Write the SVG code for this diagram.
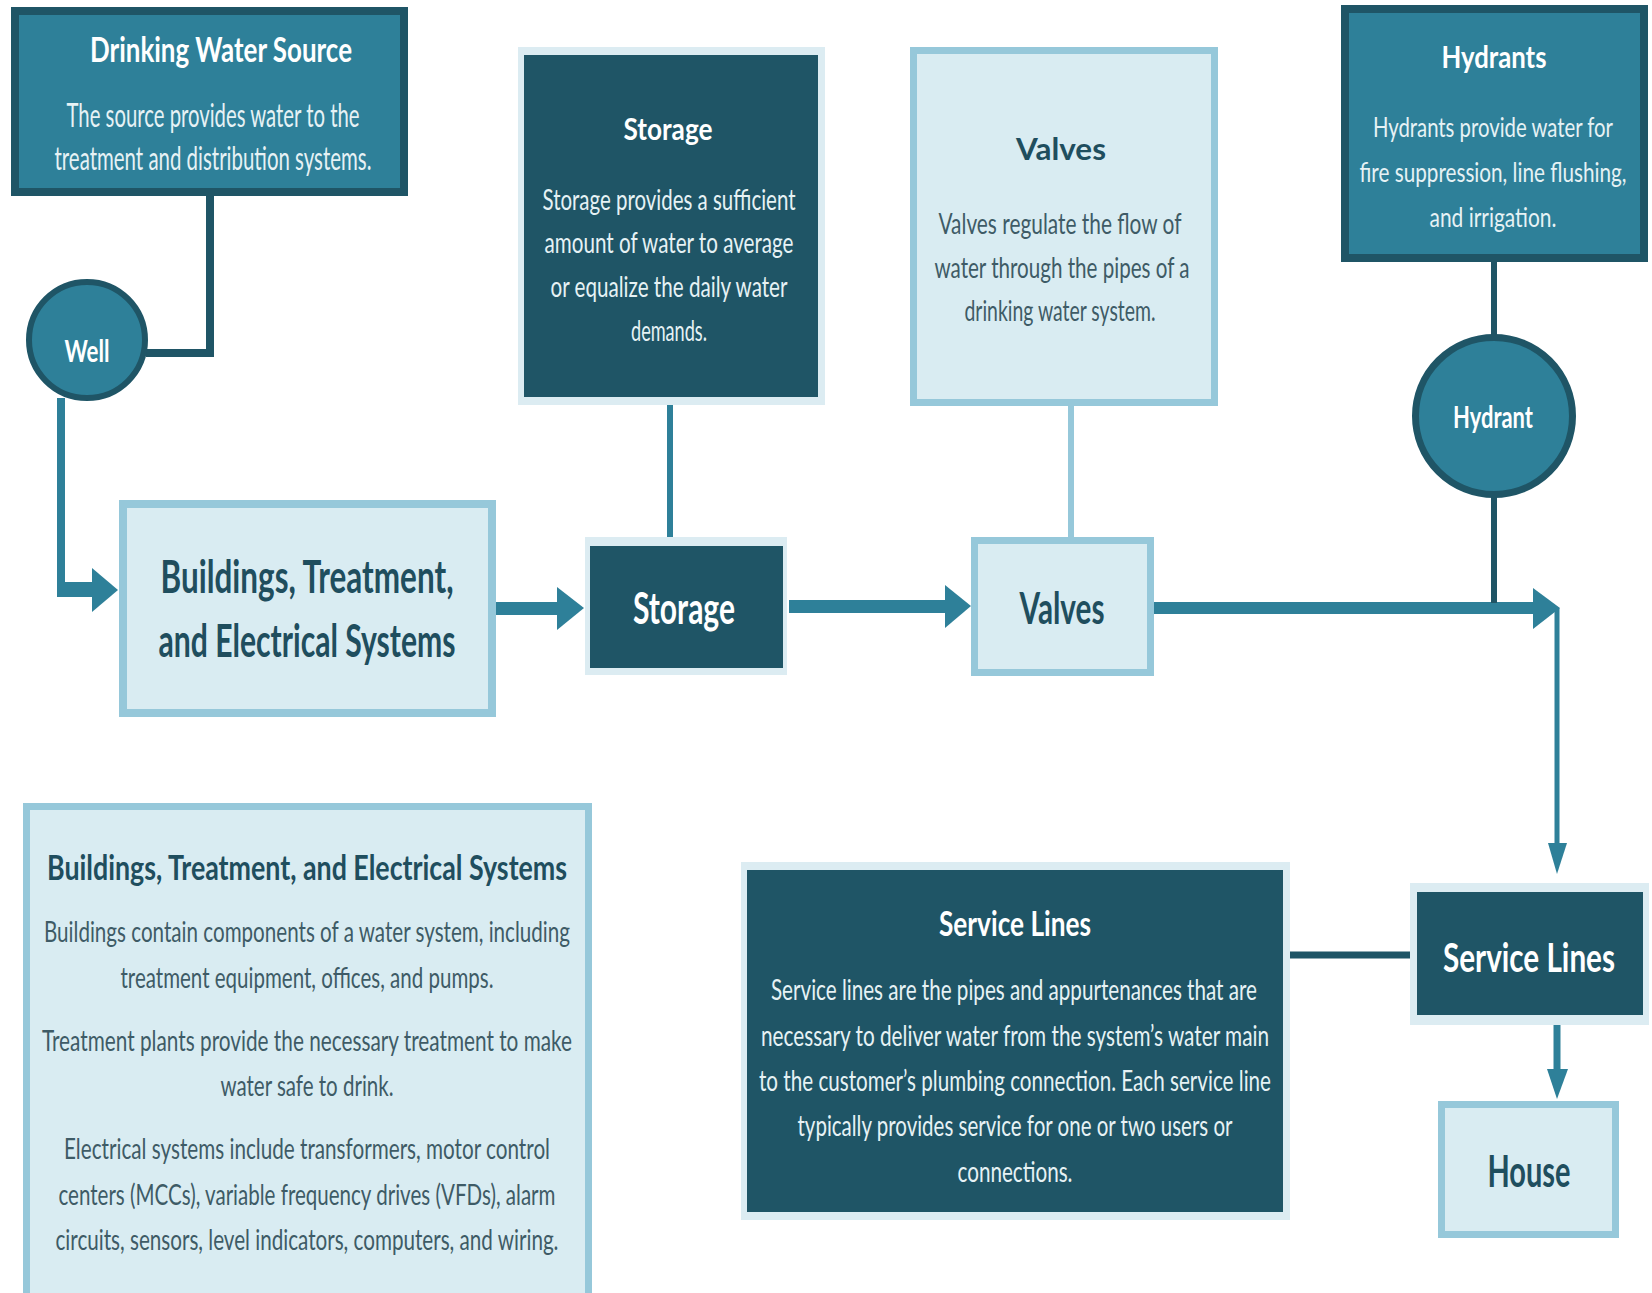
<svg xmlns="http://www.w3.org/2000/svg" width="1652" height="1293" viewBox="0 0 1652 1293">
<style>
.t{font-family:Lato,"Open Sans","Liberation Sans",sans-serif;text-anchor:middle}
.b{font-weight:700}
.w{fill:#ffffff}
.wb{fill:#e6f2f5}
.d{fill:#1f4e5e}
.g{fill:#3e5b66}
.teal{fill:#2e8099}
.dark{fill:#1f5566}
.lf{fill:#d9ecf2}
</style>
<rect x="0" y="0" width="1652" height="1293" fill="#ffffff"/>
<g id="connectors">
<path d="M210,196 V353 H146" fill="none" stroke="#1f5566" stroke-width="8"/>
<line x1="61" y1="398" x2="61" y2="597" stroke="#2e8099" stroke-width="8"/>
<rect x="57" y="582" width="38" height="15" fill="#2e8099"/>
<polygon points="92,568 118,590 92,612" fill="#2e8099"/>
<rect x="496" y="602" width="63" height="13" fill="#2e8099"/>
<polygon points="557,587 584,608 557,630" fill="#2e8099"/>
<line x1="670" y1="405" x2="670" y2="538" stroke="#2e8099" stroke-width="6"/>
<rect x="789" y="600" width="158" height="13" fill="#2e8099"/>
<polygon points="945,585 971,606 945,628" fill="#2e8099"/>
<line x1="1071" y1="406" x2="1071" y2="538" stroke="#96c8da" stroke-width="6"/>
<rect x="1154" y="602" width="382" height="12" fill="#2e8099"/>
<polygon points="1533,588 1560,608 1533,629" fill="#2e8099"/>
<line x1="1557" y1="608" x2="1557" y2="846" stroke="#2e8099" stroke-width="5"/>
<polygon points="1548,843 1557,874 1567,843" fill="#2e8099"/>
<line x1="1494" y1="262" x2="1494" y2="336" stroke="#1f5566" stroke-width="6"/>
<line x1="1494" y1="496" x2="1494" y2="603" stroke="#1f5566" stroke-width="6"/>
<line x1="1290" y1="955" x2="1411" y2="955" stroke="#1f5566" stroke-width="7"/>
<line x1="1557" y1="1025" x2="1557" y2="1072" stroke="#2e8099" stroke-width="7"/>
<polygon points="1547,1069 1557,1099 1568,1069" fill="#2e8099"/>
</g>
<g id="dws">
<rect x="15" y="11" width="389" height="181" class="teal" stroke="#1f5566" stroke-width="8"/>
<text x="221" y="62" class="t b w" font-size="34" textLength="262" lengthAdjust="spacingAndGlyphs">Drinking Water Source</text>
<text x="213" y="127" class="t wb" font-size="32" textLength="293" lengthAdjust="spacingAndGlyphs">The source provides water to the</text>
<text x="213" y="170" class="t wb" font-size="32" textLength="317" lengthAdjust="spacingAndGlyphs">treatment and distribution systems.</text>
</g>
<g id="well">
<circle cx="87" cy="340" r="58" class="teal" stroke="#1f5566" stroke-width="6"/>
<text x="87" y="362" class="t b w" font-size="31" textLength="45" lengthAdjust="spacingAndGlyphs">Well</text>
</g>
<g id="storage-info">
<rect x="518" y="47" width="307" height="358" fill="#dcecf2"/>
<rect x="524" y="55" width="294" height="342" class="dark"/>
<text x="668" y="140" class="t b w" font-size="31" textLength="89" lengthAdjust="spacingAndGlyphs">Storage</text>
<text x="669" y="210" class="t wb" font-size="28" textLength="253" lengthAdjust="spacingAndGlyphs">Storage provides a sufficient</text>
<text x="669" y="253" class="t wb" font-size="28" textLength="249" lengthAdjust="spacingAndGlyphs">amount of water to average</text>
<text x="669" y="297" class="t wb" font-size="28" textLength="237" lengthAdjust="spacingAndGlyphs">or equalize the daily water</text>
<text x="669" y="341" class="t wb" font-size="28" textLength="76" lengthAdjust="spacingAndGlyphs">demands.</text>
</g>
<g id="valves-info">
<rect x="913.5" y="50.5" width="301" height="352" class="lf" stroke="#96c8da" stroke-width="7"/>
<text x="1061" y="160" class="t b d" font-size="31" textLength="90" lengthAdjust="spacingAndGlyphs">Valves</text>
<text x="1060" y="234" class="t g" font-size="28" textLength="243" lengthAdjust="spacingAndGlyphs">Valves regulate the flow of</text>
<text x="1062" y="278" class="t g" font-size="28" textLength="255" lengthAdjust="spacingAndGlyphs">water through the pipes of a</text>
<text x="1060" y="321" class="t g" font-size="28" textLength="191" lengthAdjust="spacingAndGlyphs">drinking water system.</text>
</g>
<g id="hydrants-info">
<rect x="1345" y="9" width="299" height="249" class="teal" stroke="#1f5566" stroke-width="8"/>
<text x="1494" y="68" class="t b w" font-size="31" textLength="105" lengthAdjust="spacingAndGlyphs">Hydrants</text>
<text x="1493" y="137" class="t wb" font-size="26" textLength="240" lengthAdjust="spacingAndGlyphs">Hydrants provide water for</text>
<text x="1493" y="182" class="t wb" font-size="26" textLength="267" lengthAdjust="spacingAndGlyphs">fire suppression, line flushing,</text>
<text x="1493" y="227" class="t wb" font-size="26" textLength="127" lengthAdjust="spacingAndGlyphs">and irrigation.</text>
</g>
<g id="hydrant">
<circle cx="1494" cy="416" r="78.5" class="teal" stroke="#1f5566" stroke-width="7"/>
<text x="1493" y="428" class="t b w" font-size="31" textLength="80" lengthAdjust="spacingAndGlyphs">Hydrant</text>
</g>
<g id="buildings">
<rect x="123" y="504" width="369" height="209" class="lf" stroke="#96c8da" stroke-width="8"/>
<text x="307" y="593" class="t b d" font-size="46" textLength="293" lengthAdjust="spacingAndGlyphs">Buildings, Treatment,</text>
<text x="307" y="657" class="t b d" font-size="46" textLength="297" lengthAdjust="spacingAndGlyphs">and Electrical Systems</text>
</g>
<g id="storage">
<rect x="585" y="537" width="202" height="138" fill="#dcecf2"/>
<rect x="590" y="546" width="193" height="122" class="dark"/>
<text x="684" y="624" class="t b w" font-size="44" textLength="102" lengthAdjust="spacingAndGlyphs">Storage</text>
</g>
<g id="valves">
<rect x="974.5" y="540.5" width="176" height="132" class="lf" stroke="#96c8da" stroke-width="7"/>
<text x="1062" y="624" class="t b d" font-size="44" textLength="85" lengthAdjust="spacingAndGlyphs">Valves</text>
</g>
<g id="buildings-info">
<rect x="26.5" y="806.5" width="562" height="490" class="lf" stroke="#96c8da" stroke-width="7"/>
<text x="307" y="880" class="t b d" font-size="35" textLength="520" lengthAdjust="spacingAndGlyphs">Buildings, Treatment, and Electrical Systems</text>
<text x="307" y="942" class="t g" font-size="29" textLength="526" lengthAdjust="spacingAndGlyphs">Buildings contain components of a water system, including</text>
<text x="307" y="988" class="t g" font-size="29" textLength="373" lengthAdjust="spacingAndGlyphs">treatment equipment, offices, and pumps.</text>
<text x="307" y="1051" class="t g" font-size="29" textLength="530" lengthAdjust="spacingAndGlyphs">Treatment plants provide the necessary treatment to make</text>
<text x="307" y="1096" class="t g" font-size="29" textLength="173" lengthAdjust="spacingAndGlyphs">water safe to drink.</text>
<text x="307" y="1159" class="t g" font-size="29" textLength="486" lengthAdjust="spacingAndGlyphs">Electrical systems include transformers, motor control</text>
<text x="307" y="1205" class="t g" font-size="29" textLength="497" lengthAdjust="spacingAndGlyphs">centers (MCCs), variable frequency drives (VFDs), alarm</text>
<text x="307" y="1250" class="t g" font-size="29" textLength="503" lengthAdjust="spacingAndGlyphs">circuits, sensors, level indicators, computers, and wiring.</text>
</g>
<g id="service-info">
<rect x="741" y="862" width="549" height="358" fill="#dcecf2"/>
<rect x="747" y="870" width="536" height="342" class="dark"/>
<text x="1015" y="936" class="t b w" font-size="34" textLength="152" lengthAdjust="spacingAndGlyphs">Service Lines</text>
<text x="1014" y="1000" class="t wb" font-size="28" textLength="486" lengthAdjust="spacingAndGlyphs">Service lines are the pipes and appurtenances that are</text>
<text x="1015" y="1046" class="t wb" font-size="28" textLength="508" lengthAdjust="spacingAndGlyphs">necessary to deliver water from the system’s water main</text>
<text x="1015" y="1091" class="t wb" font-size="28" textLength="512" lengthAdjust="spacingAndGlyphs">to the customer’s plumbing connection. Each service line</text>
<text x="1015" y="1136" class="t wb" font-size="28" textLength="435" lengthAdjust="spacingAndGlyphs">typically provides service for one or two users or</text>
<text x="1015" y="1182" class="t wb" font-size="28" textLength="115" lengthAdjust="spacingAndGlyphs">connections.</text>
</g>
<g id="service">
<rect x="1410" y="883" width="239" height="142" fill="#dcecf2"/>
<rect x="1417" y="892" width="226" height="123" class="dark"/>
<text x="1529" y="972" class="t b w" font-size="40" textLength="172" lengthAdjust="spacingAndGlyphs">Service Lines</text>
</g>
<g id="house">
<rect x="1441.5" y="1104.5" width="174" height="130" class="lf" stroke="#96c8da" stroke-width="7"/>
<text x="1529" y="1187" class="t b d" font-size="44" textLength="83" lengthAdjust="spacingAndGlyphs">House</text>
</g>
</svg>
